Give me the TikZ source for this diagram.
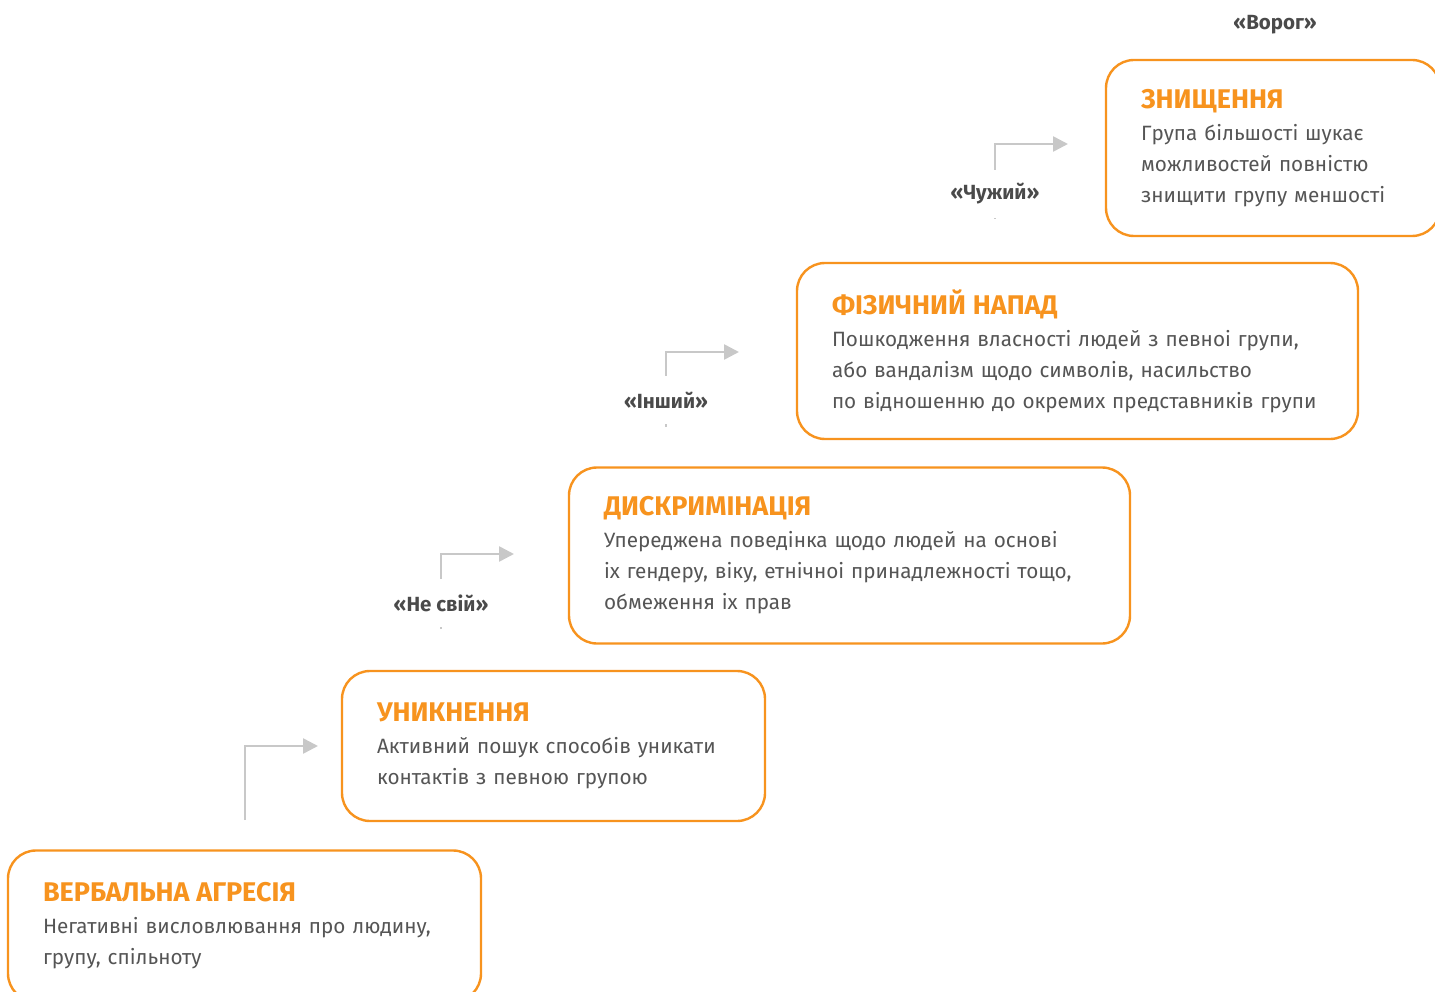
\documentclass[tikz,border=0pt]{standalone}
\usepackage{fontspec}
\setmainfont{Fira Sans}
\usepackage{xcolor}
\definecolor{stepOrange}{HTML}{F7931E}
\definecolor{bodyGray}{HTML}{555555}
\definecolor{tagGray}{HTML}{4A4A4A}
\definecolor{flowGray}{HTML}{C8C8C8}
\usepackage{tikz}
\usetikzlibrary{arrows.meta, positioning}
\newcommand{\steptitle}[1]{{\fontsize{27}{31}\selectfont\bfseries\color{stepOrange}#1}\\[1pt]}

\begin{document}
\begin{tikzpicture}[
  x=1pt, y=-1pt,
  stage/.style={draw=stepOrange, line width=2.4pt, rounded corners=28pt, fill=white,
    align=left, inner xsep=35pt, inner ysep=0pt, minimum height=#1,
    font=\fontsize{20.7}{31}\selectfont, text=bodyGray},
  stage/.default=176pt,
  tag/.style={font=\fontsize{20.5}{22}\selectfont\bfseries, text=tagGray, fill=white,
    inner sep=0pt, minimum height=48pt},
  flow/.style={draw=flowGray, line width=2.6pt, -{Triangle[length=15pt, width=15pt]}}
]
  \useasboundingbox (0,0) rectangle (1435,992);

  % steps of the ladder
  \node[stage=151pt, text width=403pt] (verbal) at (244.5,926)
    {\steptitle{ВЕРБАЛЬНА АГРЕСІЯ}Негативні висловлювання про людину,\\групу, спільноту};
  \node[stage=150pt, text width=353pt] (avoid) at (553.5,746)
    {\steptitle{УНИКНЕННЯ}Активний пошук способів уникати\\контактів з певною групою};
  \node[stage, text width=491pt] (discr) at (849.5,555.5)
    {\steptitle{ДИСКРИМІНАЦІЯ}Упереджена поведінка щодо людей на основі\\іх гендеру, віку, етнічноі принадлежності тощо,\\обмеження іх прав};
  \node[stage, text width=491pt] (attack) at (1077.5,351)
    {\steptitle{ФІЗИЧНИЙ НАПАД}Пошкодження власності людей з певноі групи,\\або вандалізм щодо символів, насильство\\по відношенню до окремих представників групи};
  \node[stage, text width=264pt] (destroy) at (1273,148)
    {\steptitle{ЗНИЩЕННЯ}Група більшості шукає\\можливостей повністю\\знищити групу меншості};

  % feet and tips of the connectors
  \coordinate (f1) at (245,820);  \coordinate (t1) at (318,746);
  \coordinate (f2) at (441,629);  \coordinate (t2) at (514,554);
  \coordinate (f3) at (666,427);  \coordinate (t3) at (739,352);
  \coordinate (f4) at (995,219);  \coordinate (t4) at (1068,144);

  \draw[flow] (f1) |- (t1);
  \draw[flow] (f2) |- (t2);
  \draw[flow] (f3) |- (t3);
  \draw[flow] (f4) |- (t4);

  \node[tag] (notours) at (441,603) {«Не свій»};
  \node[tag] (other) at (666,400) {«Інший»};
  \node[tag] (alien) at (995,194) {«Чужий»};
  \node[tag, minimum height=0pt] (enemy) at (1275,25) {«Ворог»};
\end{tikzpicture}
\end{document}
